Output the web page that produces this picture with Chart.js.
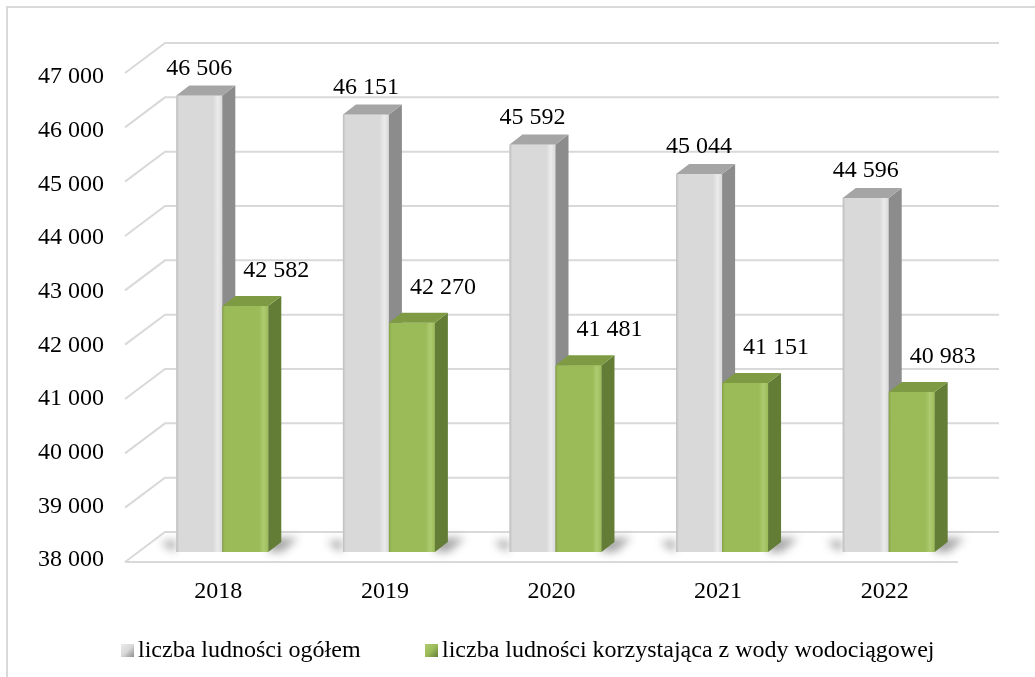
<!DOCTYPE html>
<html lang="pl">
<head>
<meta charset="utf-8">
<title>Liczba ludności 2018-2022</title>
<script src="https://cdn.jsdelivr.net/npm/chart.js@4.4.1/dist/chart.umd.min.js"></script>
<style>
    html, body {
        margin: 0;
        padding: 0;
        background: #ffffff;
    }
    #wrap {
        position: relative;
        width: 1035px;
        height: 677px;
    }
    .font-probe {
        position: absolute;
        left: -9999px;
        top: 0;
        font-family: 'Liberation Serif';
        font-size: 24px;
    }
</style>
</head>
<body>
<span class="font-probe">liczba 0123456789</span>
<div id="wrap">
    <canvas id="populationChart" width="1035" height="677"></canvas>
</div>
<script>
// ---- Data ----
const years = ['2018', '2019', '2020', '2021', '2022'];
const totalPopulation = [46506, 46151, 45592, 45044, 44596];
const waterSupplyUsers = [42582, 42270, 41481, 41151, 40983];
const seriesNames = ['liczba ludności ogółem', 'liczba ludności korzystająca z wody wodociągowej'];
const yMin = 38000;
const yMax = 47000;
const yStep = 1000;

// ---- Look ----
const FONT = "'Liberation Serif', 'Times New Roman', serif";
const FONT_SIZE = 24;
const GRID_COLOR = '#d9d9d9';
const faces = [
    { front: '#d9d9d9', light: '#ebebeb', edge: '#bdbdbd', side: '#8c8c8c', top: '#a5a5a5' },
    { front: '#9bbb59', light: '#aecb70', edge: '#86a447', side: '#647d36', top: '#7e9b44' }
];
const labelShift = [ { dx: 0, dy: -27 }, { dx: 31, dy: -35 } ];
const DEPTH_X = 13;
const DEPTH_Y = -10;

// ---- Format "47 000" ----
function formatNumber(v) {
    return String(v).replace(/\B(?=(\d{3})+(?!\d))/g, ' ');
}

// ---- 3D walls: left side wall + back wall gridlines + floor ----
const wallsPlugin = {
    id: 'walls',
    beforeDatasetsDraw(chart) {
        const { ctx, chartArea } = chart;
        const yScale = chart.scales.y;
        const frontLeft = chartArea.left - 14;
        const backLeft = chartArea.left + 26;
        const backRight = chartArea.right + 27;
        const frontRight = chartArea.right - 14;

        ctx.save();
        ctx.strokeStyle = GRID_COLOR;
        ctx.lineWidth = 2;
        for (let v = yMin; v <= yMax; v += yStep) {
            const y = yScale.getPixelForValue(v);
            const frac = (v - yMin) / (yMax - yMin);
            const fy = y + 10 - 6 * frac;
            const by = y - 20 - 6 * frac;
            ctx.beginPath();
            ctx.moveTo(frontLeft, fy);
            ctx.lineTo(backLeft, by);
            ctx.lineTo(backRight, by);
            ctx.stroke();
            if (v === yMin) {
                ctx.beginPath();
                ctx.moveTo(frontLeft, fy);
                ctx.lineTo(frontRight, fy);
                ctx.stroke();
            }
        }
        ctx.restore();

        // soft floor shadows next to each pair of bars
        const gray = chart.getDatasetMeta(0).data;
        const green = chart.getDatasetMeta(1).data;
        ctx.save();
        ctx.filter = 'blur(4px)';
        ctx.fillStyle = 'rgba(0, 0, 0, 0.35)';
        gray.forEach((g, i) => {
            const a = g.getProps(['x', 'base', 'width'], true);
            const b = green[i].getProps(['x', 'base', 'width'], true);
            const l = a.x - a.width / 2;
            const r = b.x + b.width / 2;
            ctx.beginPath();
            ctx.moveTo(l - 2, a.base);
            ctx.lineTo(l - 16, a.base - 10);
            ctx.lineTo(l, a.base - 12);
            ctx.closePath();
            ctx.fill();
            ctx.beginPath();
            ctx.moveTo(r, b.base - 14);
            ctx.lineTo(r + 30, b.base - 14);
            ctx.lineTo(r + 14, b.base);
            ctx.lineTo(r, b.base);
            ctx.closePath();
            ctx.fill();
        });
        ctx.restore();
    }
};

// ---- 3D bar faces + value labels ----
function drawBox(ctx, el, look) {
    const { x, y, base, width } = el.getProps(['x', 'y', 'base', 'width'], true);
    const left = x - width / 2;
    const right = x + width / 2;

    // front face
    const grad = ctx.createLinearGradient(left, 0, right, 0);
    grad.addColorStop(0, look.edge);
    grad.addColorStop(0.06, look.front);
    grad.addColorStop(0.8, look.front);
    grad.addColorStop(0.9, look.light);
    grad.addColorStop(1, look.front);
    ctx.fillStyle = grad;
    ctx.fillRect(left, y, width, base - y);

    // side face
    ctx.fillStyle = look.side;
    ctx.beginPath();
    ctx.moveTo(right, y);
    ctx.lineTo(right + DEPTH_X, y + DEPTH_Y);
    ctx.lineTo(right + DEPTH_X, base + DEPTH_Y);
    ctx.lineTo(right, base);
    ctx.closePath();
    ctx.fill();

    // top face
    ctx.fillStyle = look.top;
    ctx.beginPath();
    ctx.moveTo(left, y);
    ctx.lineTo(left + DEPTH_X, y + DEPTH_Y);
    ctx.lineTo(right + DEPTH_X, y + DEPTH_Y);
    ctx.lineTo(right, y);
    ctx.closePath();
    ctx.fill();
}

const barsPlugin = {
    id: 'bars3d',
    afterDatasetsDraw(chart) {
        const { ctx } = chart;
        const metas = [chart.getDatasetMeta(0), chart.getDatasetMeta(1)];
        ctx.save();
        metas[0].data.forEach((_, i) => {
            metas.forEach((meta, d) => drawBox(ctx, meta.data[i], faces[d]));
        });

        ctx.fillStyle = '#000000';
        ctx.font = FONT_SIZE + 'px ' + FONT;
        ctx.textAlign = 'center';
        ctx.textBaseline = 'middle';
        metas.forEach((meta, d) => {
            const values = chart.data.datasets[d].data;
            meta.data.forEach((el, i) => {
                const { x, y } = el.getProps(['x', 'y'], true);
                ctx.fillText(formatNumber(values[i]), x + labelShift[d].dx, y + labelShift[d].dy);
            });
        });
        ctx.restore();
    }
};

// ---- Legend + outer frame ----
const framePlugin = {
    id: 'frame',
    afterDraw(chart) {
        const { ctx, width, height } = chart;
        ctx.save();
        ctx.strokeStyle = GRID_COLOR;
        ctx.lineWidth = 2;
        ctx.beginPath();
        ctx.moveTo(7, height);
        ctx.lineTo(7, 7);
        ctx.lineTo(width, 7);
        ctx.stroke();

        const items = [
            { x: 121, textX: 138 },
            { x: 425, textX: 442 }
        ];
        const ly = 650;
        ctx.font = FONT_SIZE + 'px ' + FONT;
        ctx.textAlign = 'left';
        ctx.textBaseline = 'middle';
        items.forEach((item, d) => {
            const g = ctx.createLinearGradient(item.x, ly - 6, item.x + 13, ly + 7);
            g.addColorStop(0, faces[d].light);
            g.addColorStop(0.5, faces[d].front);
            g.addColorStop(1, faces[d].side);
            ctx.fillStyle = g;
            ctx.fillRect(item.x, ly - 6, 13, 13);
            ctx.fillStyle = '#000000';
            ctx.fillText(chart.data.datasets[d].label, item.textX, ly + 1);
        });
        ctx.restore();
    }
};

// ---- Chart ----
function initChart() {
    const ctx = document.getElementById('populationChart');
    return new Chart(ctx, {
        type: 'bar',
        data: {
            labels: years,
            datasets: [
                {
                    label: seriesNames[0],
                    data: totalPopulation,
                    base: yMin,
                    backgroundColor: faces[0].front,
                    borderWidth: 0
                },
                {
                    label: seriesNames[1],
                    data: waterSupplyUsers,
                    base: yMin,
                    backgroundColor: faces[1].front,
                    borderWidth: 0
                }
            ]
        },
        options: {
            responsive: false,
            animation: false,
            devicePixelRatio: 1,
            categoryPercentage: 0.552,
            barPercentage: 1,
            layout: {
                padding: { top: 69, right: 63, left: 0, bottom: 0 }
            },
            plugins: {
                legend: { display: false },
                tooltip: { enabled: false }
            },
            scales: {
                x: {
                    grid: { display: false },
                    border: { display: false },
                    ticks: {
                        color: '#000000',
                        font: { family: FONT, size: FONT_SIZE },
                        padding: 17,
                        labelOffset: -4
                    },
                    afterFit(scale) {
                        scale.height = 125;
                    }
                },
                y: {
                    min: yMin,
                    max: yMax,
                    grid: { display: false, drawTicks: false },
                    border: { display: false },
                    ticks: {
                        stepSize: yStep,
                        color: '#000000',
                        font: { family: FONT, size: FONT_SIZE },
                        padding: 35,
                        labelOffset: 8,
                        callback: (value) => formatNumber(value)
                    },
                    afterFit(scale) {
                        scale.width = 139;
                    }
                }
            }
        },
        plugins: [wallsPlugin, barsPlugin, framePlugin]
    });
}

document.addEventListener('DOMContentLoaded', () => {
    const ready = document.fonts && document.fonts.load
        ? document.fonts.load(FONT_SIZE + 'px "Liberation Serif"')
        : Promise.resolve();
    ready.then(initChart, initChart);
});
</script>
</body>
</html>
